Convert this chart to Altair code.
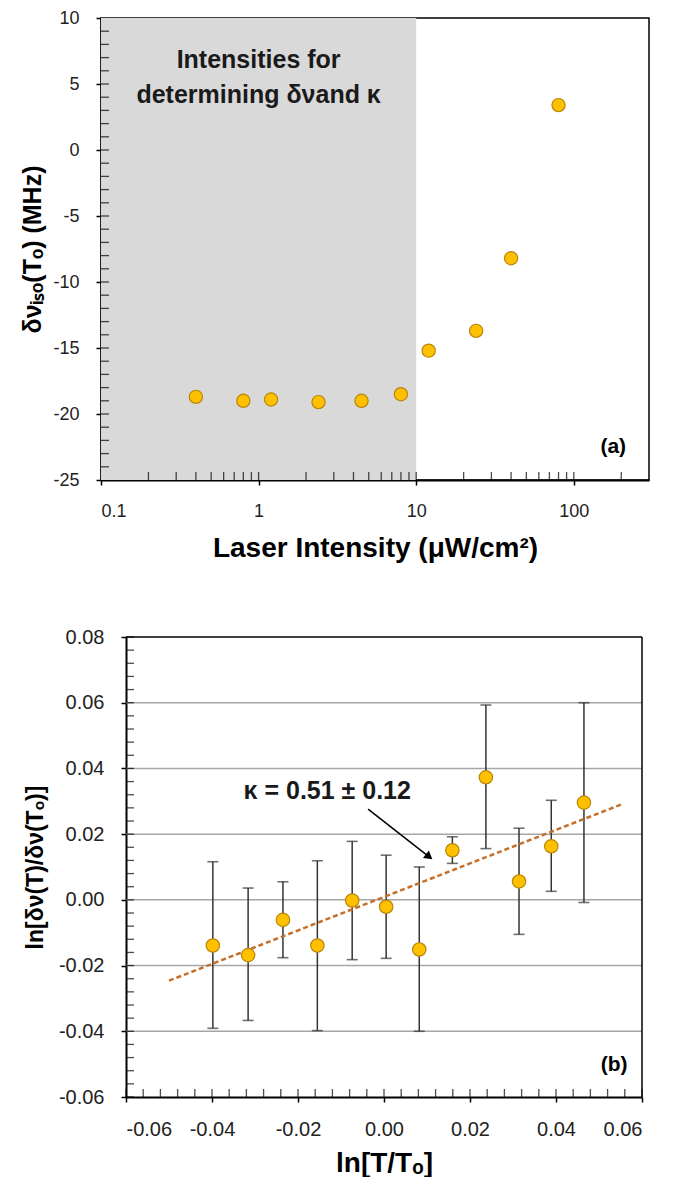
import altair as alt
import pandas as pd

# ---------------- Panel (a) data ----------------
int_x = [0.4, 0.8, 1.2, 2.4, 4.5, 8, 12, 24, 40, 80]
shift_y = [-18.7, -19.0, -18.9, -19.1, -19.0, -18.5, -15.2, -13.7, -8.2, 3.4]
shift_err = [0.0, 0.45, 0.0, 0.0, 0.0, 0.0, 0.0, 0.0, 0.0, 0.0]
shade_x = [0.1, 10]
shade_y = [-25, 10]
a_xticks = [0.1, 1, 10, 100]
a_yticks = [-25, -20, -15, -10, -5, 0, 5, 10]
a_xminor = [0.2, 0.3, 0.4, 0.5, 0.6, 0.7, 0.8, 0.9, 1, 2, 3, 4, 5, 6, 7, 8, 9,
            10, 20, 30, 40, 50, 60, 70, 80, 90, 100, 200]
a_yminor = list(range(-24, 10))
a_note = ["Intensities for", "determining δνand κ"]
a_note_x = [1, 1]
a_note_y = [6.8, 4.2]

# ---------------- Panel (b) data ----------------
lnT = [-0.0398, -0.0316, -0.0235, -0.0155, -0.0074, 0.0005, 0.0082, 0.0159,
       0.0237, 0.0314, 0.0389, 0.0465]
lnD = [-0.0139, -0.0168, -0.0061, -0.0139, -0.0002, -0.0021, -0.0151, 0.0151,
       0.0373, 0.0056, 0.0163, 0.0296]
lnD_hi = [0.0116, 0.0036, 0.0055, 0.0119, 0.0178, 0.0136, 0.0100, 0.0192,
          0.0593, 0.0218, 0.0303, 0.0600]
lnD_lo = [-0.0391, -0.0367, -0.0176, -0.0398, -0.0182, -0.0178, -0.0400, 0.0111,
          0.0156, -0.0105, 0.0026, -0.0008]
fit_x = [-0.05, 0.0557]
fit_y = [-0.0246, 0.0293]
b_xticks = [-0.06, -0.04, -0.02, 0.0, 0.02, 0.04, 0.06]
b_yticks = [-0.06, -0.04, -0.02, 0.0, 0.02, 0.04, 0.06, 0.08]
b_grid = [-0.04, -0.02, 0.0, 0.02, 0.04, 0.06]
b_xminor = [round(-0.06 + 0.004 * i, 3) for i in range(31)]
b_yminor = [round(-0.06 + 0.004 * i, 3) for i in range(36)]
b_xlim = [-0.06, 0.06]
b_ylim = [-0.06, 0.08]
arrow_x = [-0.0037, 0.0105]
arrow_y = [0.0276, 0.0131]

FONT = "Liberation Sans"
PT_FILL = "#FFC000"
PT_STROKE = "#B8860B"
MINUS = "\u2212"
B_SHIFT = 25  # panel (b) plot area starts further right than panel (a)

# ---------------- Panel (a) ----------------
dfa = pd.DataFrame({"x": int_x, "y": shift_y, "e": shift_err})
dfa["lo"] = dfa["y"] - dfa["e"]
dfa["hi"] = dfa["y"] + dfa["e"]
dfa_err = dfa[dfa["e"] > 0]

xs_a = alt.Scale(type="log", domain=[0.1, 300], nice=False)
ys_a = alt.Scale(domain=[-25, 10], nice=False, zero=False)
XT_A = "Laser Intensity (μW/cm²)"
YT_A = "δνᵢₛₒ(Tₒ) (MHz)"

ax_a_x = alt.Axis(values=a_xticks, labelExpr="format(datum.value, '~g')",
                  grid=False, labelFontSize=18, titleFontSize=28,
                  labelPadding=17, titlePadding=14)
ax_a_y = alt.Axis(values=a_yticks,
                  labelExpr=f"replace(format(datum.value, 'd'), '{MINUS}', '-')",
                  grid=False, labelFontSize=18, titleFontSize=25,
                  labelPadding=17, titlePadding=7)


def XA(f):
    return alt.X(f, scale=xs_a, axis=ax_a_x, title=XT_A)


def YA(f):
    return alt.Y(f, scale=ys_a, axis=ax_a_y, title=YT_A)


shade = alt.Chart(pd.DataFrame({"x0": [shade_x[0]], "x1": [shade_x[1]],
                                "y0": [shade_y[0]], "y1": [shade_y[1]]})).mark_rect(
    color="#D9D9D9").encode(x=XA("x0:Q"), x2="x1:Q", y=YA("y0:Q"), y2="y1:Q")

a_ymin = alt.Chart(pd.DataFrame({"v": a_yminor})).mark_tick(
    orient="horizontal", size=8, thickness=1.3, color="black", xOffset=4).encode(
    y=YA("v:Q"),
    x=alt.datum(0.1, scale=xs_a, axis=ax_a_x, title=XT_A),
)
a_xmin = alt.Chart(pd.DataFrame({"v": a_xminor})).mark_tick(
    orient="vertical", size=8, thickness=1.3, color="black", yOffset=-4).encode(
    x=XA("v:Q"),
    y=alt.datum(-25, scale=ys_a, axis=ax_a_y, title=YT_A),
)

a_err = alt.Chart(dfa_err).mark_rule(color="#333333", strokeWidth=1.5).encode(
    x=XA("x:Q"), y=YA("lo:Q"), y2="hi:Q")

a_pts = alt.Chart(dfa).mark_point(filled=True, fill=PT_FILL, stroke=PT_STROKE,
                                  strokeWidth=1.2, size=175, opacity=1).encode(
    x=XA("x:Q"), y=YA("y:Q"))

a_txt = alt.Chart(pd.DataFrame({"x": a_note_x, "y": a_note_y, "t": a_note})).mark_text(
    font=FONT, fontSize=25, fontWeight="bold", color="#1a1a1a").encode(
    x=XA("x:Q"), y=YA("y:Q"), text="t:N")

a_lab = alt.Chart(pd.DataFrame({"x": [178], "y": [-22.5], "t": ["(a)"]})).mark_text(
    font=FONT, fontSize=21, fontWeight="bold", color="black").encode(
    x=XA("x:Q"), y=YA("y:Q"), text="t:N")

top = alt.layer(shade, a_ymin, a_xmin, a_err, a_pts, a_txt, a_lab).properties(
    width=548, height=462)

# ---------------- Panel (b) ----------------
dfb = pd.DataFrame({"x": lnT, "y": lnD, "lo": lnD_lo, "hi": lnD_hi})

B_W = 516
xs_b = alt.Scale(domain=b_xlim, nice=False, zero=False, range=[B_SHIFT, B_SHIFT + B_W])
ys_b = alt.Scale(domain=b_ylim, nice=False, zero=False)
XT_B = "ln[T/Tₒ]"
YT_B = "ln[δν(T)/δν(Tₒ)]"

ax_b_x = alt.Axis(values=b_xticks,
                  labelExpr=f"replace(format(datum.value, '.2f'), '{MINUS}', '-')",
                  grid=False, labelFontSize=20, titleFontSize=28,
                  labelPadding=17, titlePadding=10)
ax_b_y = alt.Axis(values=b_yticks,
                  labelExpr=f"replace(format(datum.value, '.2f'), '{MINUS}', '-')",
                  grid=False, labelFontSize=20, titleFontSize=23,
                  labelPadding=17, titlePadding=11, offset=-B_SHIFT)


def XB(f):
    return alt.X(f, scale=xs_b, axis=ax_b_x, title=XT_B)


def YB(f):
    return alt.Y(f, scale=ys_b, axis=ax_b_y, title=YT_B)


b_gridl = alt.Chart(pd.DataFrame({"v": b_grid})).mark_rule(
    color="#A6A6A6", strokeWidth=1.5).encode(
    y=YB("v:Q"),
    x=alt.datum(b_xlim[0], scale=xs_b, axis=ax_b_x, title=XT_B),
    x2=alt.datum(b_xlim[1]))

frame_top = alt.Chart(pd.DataFrame({"v": [b_ylim[1]]})).mark_rule(
    color="black", strokeWidth=1.5).encode(
    y=YB("v:Q"),
    x=alt.datum(b_xlim[0], scale=xs_b, axis=ax_b_x, title=XT_B),
    x2=alt.datum(b_xlim[1]))
frame_right = alt.Chart(pd.DataFrame({"v": [b_xlim[1]]})).mark_rule(
    color="black", strokeWidth=1.5).encode(
    x=XB("v:Q"),
    y=alt.datum(b_ylim[0], scale=ys_b, axis=ax_b_y, title=YT_B),
    y2=alt.datum(b_ylim[1]))

b_ymin = alt.Chart(pd.DataFrame({"v": b_yminor})).mark_tick(
    orient="horizontal", size=8, thickness=1.3, color="black", xOffset=4).encode(
    y=YB("v:Q"),
    x=alt.datum(b_xlim[0], scale=xs_b, axis=ax_b_x, title=XT_B),
)
b_xmin = alt.Chart(pd.DataFrame({"v": b_xminor})).mark_tick(
    orient="vertical", size=8, thickness=1.3, color="black", yOffset=-4).encode(
    x=XB("v:Q"),
    y=alt.datum(b_ylim[0], scale=ys_b, axis=ax_b_y, title=YT_B),
)

b_err = alt.Chart(dfb).mark_rule(color="#333333", strokeWidth=1.5).encode(
    x=XB("x:Q"), y=YB("lo:Q"), y2="hi:Q")
b_cap_hi = alt.Chart(dfb).mark_tick(orient="horizontal", size=11, thickness=1.6,
                                    color="#333333").encode(
    x=XB("x:Q"), y=YB("hi:Q"))
b_cap_lo = alt.Chart(dfb).mark_tick(orient="horizontal", size=11, thickness=1.6,
                                    color="#333333").encode(
    x=XB("x:Q"), y=YB("lo:Q"))

b_fit = alt.Chart(pd.DataFrame({"x": fit_x, "y": fit_y})).mark_line(
    color="#C5702A", strokeWidth=2.5, strokeDash=[5, 3]).encode(
    x=XB("x:Q"), y=YB("y:Q"))

b_pts = alt.Chart(dfb).mark_point(filled=True, fill=PT_FILL, stroke=PT_STROKE,
                                  strokeWidth=1.2, size=180, opacity=1).encode(
    x=XB("x:Q"), y=YB("y:Q"))

b_arrow = alt.Chart(pd.DataFrame({"x": arrow_x, "y": arrow_y})).mark_line(
    color="black", strokeWidth=1.5).encode(x=XB("x:Q"), y=YB("y:Q"))
b_head = alt.Chart(pd.DataFrame({"x": [arrow_x[1]], "y": [arrow_y[1]]})).mark_point(
    shape="triangle-up", filled=True, color="black", size=90, angle=128,
    opacity=1).encode(x=XB("x:Q"), y=YB("y:Q"))

b_kappa = alt.Chart(pd.DataFrame({"x": [-0.0132], "y": [0.033],
                                  "t": ["κ  =  0.51 ± 0.12"]})).mark_text(
    font=FONT, fontSize=25, fontWeight="bold", color="#1a1a1a").encode(
    x=XB("x:Q"), y=YB("y:Q"), text="t:N")

b_lab = alt.Chart(pd.DataFrame({"x": [0.0535], "y": [-0.0503], "t": ["(b)"]})).mark_text(
    font=FONT, fontSize=21, fontWeight="bold", color="black").encode(
    x=XB("x:Q"), y=YB("y:Q"), text="t:N")

bottom = alt.layer(b_gridl, b_ymin, b_xmin, b_err, b_cap_hi, b_cap_lo, b_fit,
                   b_pts, b_arrow, b_head, b_kappa, b_lab, frame_top,
                   frame_right).properties(
    width=B_SHIFT + B_W, height=460,
    view=alt.ViewBackground(strokeOpacity=0))

chart = alt.vconcat(top, bottom, spacing=64).properties(
    padding={"left": 12, "top": 0, "right": 0, "bottom": 0}
).configure_view(
    stroke="black", strokeWidth=1.5
).configure_axis(
    labelFont=FONT, titleFont=FONT, labelColor="#222222", titleColor="black",
    titleFontWeight="bold", domainColor="black", domainWidth=2,
    tickColor="black", tickWidth=1.5, tickSize=5
)

chart.save("out.html", embed_options={"renderer": "svg", "actions": False})
